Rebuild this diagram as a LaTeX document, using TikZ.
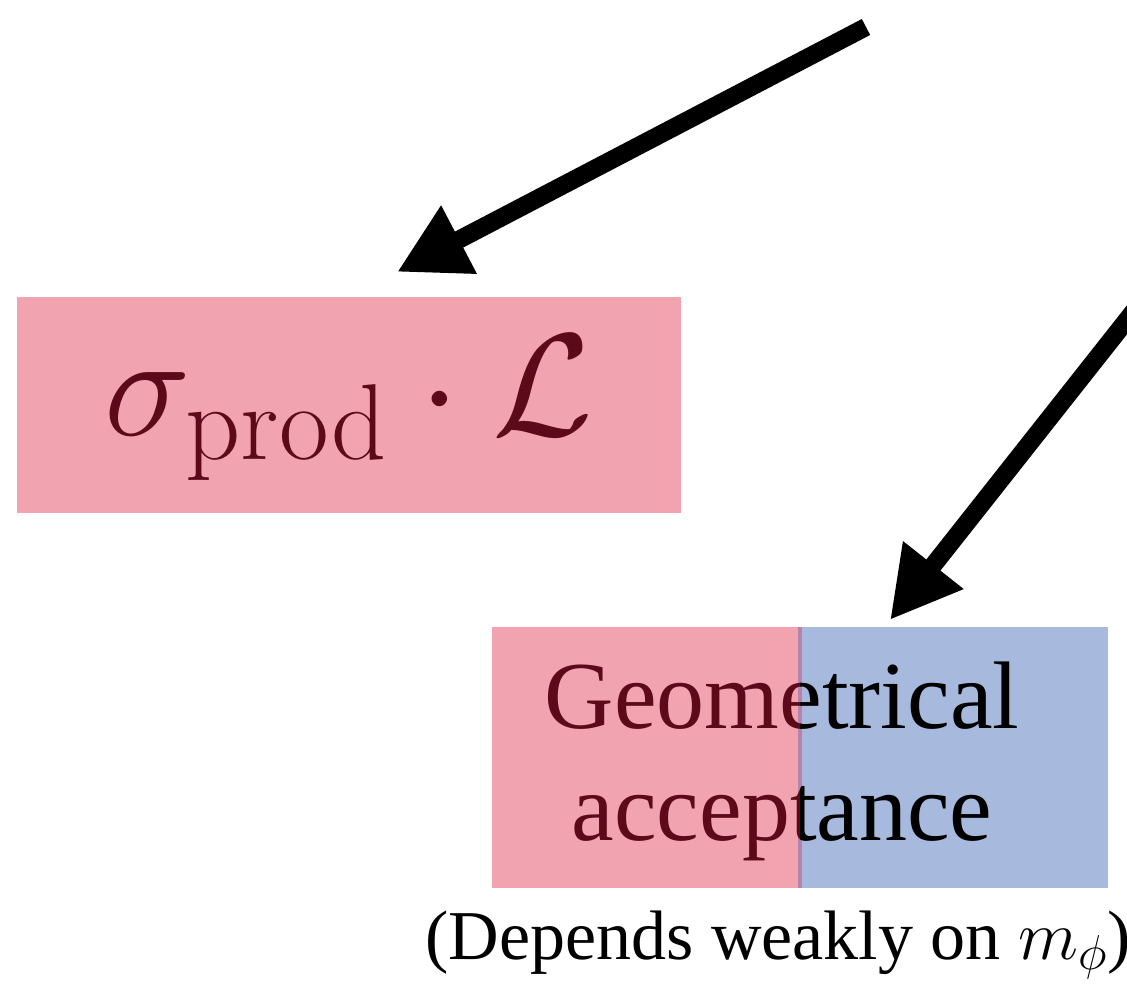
\RequirePackage{fix-cm}
\documentclass[tikz,border=0pt]{standalone}
\usepackage{amsmath,amssymb}
\usepackage[no-math]{fontspec}
\setmainfont{Liberation Serif}
\usepackage{tikz}
\usetikzlibrary{arrows.meta}
\DeclareMathSizes{146}{146}{108}{73}
\definecolor{boxpink}{HTML}{F2A3B0}
\definecolor{boxblue}{HTML}{A7BADD}
\definecolor{textred}{HTML}{5C0A1A}
\definecolor{seam}{HTML}{B684A8}
\tikzset{
  bigarrow/.style={line width=18pt,-{Triangle[length=70pt,width=72pt]}},
  geotext/.style={align=center,font=\fontsize{96}{112}\selectfont},
}

\begin{document}
\begin{tikzpicture}[x=1pt,y=-1pt]
\useasboundingbox (0,0) rectangle (1127,985);
\clip (0,0) rectangle (1127,985);
% luminosity box
\fill[boxpink] (17,297) rectangle (681,513);
\node[text=textred,font=\fontsize{146}{146}\selectfont] (lumi) at (349,408)
  {$\sigma_{\mathrm{prod}}\cdot\mathcal{L}$};
% acceptance box, split in two colours
\fill[boxpink] (492,627) rectangle (800,888);
\fill[boxblue] (800,627) rectangle (1108,888);
\draw[seam,line width=4pt] (800,627) -- (800,888);
\begin{scope}
\clip (492,627) rectangle (800,888);
\node[geotext,text=textred] (geoL) at (782,761) {Geometrical\\acceptance};
\end{scope}
\begin{scope}
\clip (800,627) rectangle (1108,888);
\node[geotext,text=black] (geo) at (782,761) {Geometrical\\acceptance};
\end{scope}
\node[font=\fontsize{70}{70}\selectfont,anchor=west] (note) at (422,945)
  {(Depends weakly on $m_{\phi}$)};
% arrows
\coordinate (srcA) at (866,27);
\coordinate (srcB) at (1160,278);
\draw[bigarrow] (srcA) -- ([xshift=48pt,yshift=25pt]lumi.north |- 0,297);
\draw[bigarrow] (srcB) -- (890,620);
\end{tikzpicture}
\end{document}
